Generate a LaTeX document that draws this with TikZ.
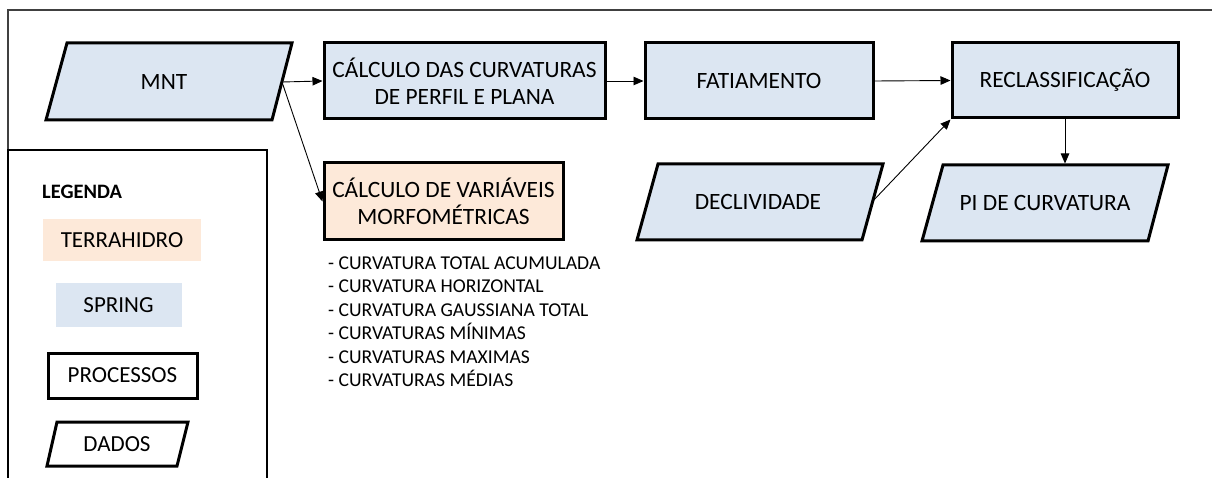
\documentclass[tikz,border=0pt]{standalone}
\usepackage{fontspec}
\setmainfont{Carlito}
\usetikzlibrary{arrows.meta}
\definecolor{sblue}{HTML}{DCE6F2}
\definecolor{tpeach}{HTML}{FDE9D9}
\definecolor{framegray}{HTML}{404040}
\begin{document}
\begin{tikzpicture}[x=1pt,y=-1pt,
  procbox/.style={draw=black, line width=3pt, inner sep=0pt, align=center, font=\fontsize{23.4}{27}\selectfont},
  datashape/.style={draw=black, line width=3pt, fill=sblue},
  boxtext/.style={inner sep=0pt, align=center, font=\fontsize{23.4}{27}\selectfont},
  legtext/.style={inner sep=0pt, align=center, font=\fontsize{23}{27}\selectfont},
  listtext/.style={inner sep=0pt, align=left, font=\fontsize{19.6}{23.4}\selectfont},
  conn/.style={-{Triangle[length=10pt,width=8.5pt]}, line width=0.9pt},
  ]
\useasboundingbox (0,0) rectangle (1212,478);
% outer frame
\draw[framegray, line width=1.3pt] (8,478) -- (8,10) -- (1212,10);
% legend frame
\draw[black, line width=1.8pt] (8,478) -- (8,150) -- (267,150) -- (267,478);

% MNT
\filldraw[datashape] (46,120) -- (67,43) -- (292,43) -- (272,120) -- cycle;
\node[boxtext] (mnt) at (164,81.5) {MNT};
\coordinate (mntR) at (282,82);

% processes
\node[procbox, fill=sblue, minimum width=281pt, minimum height=76pt] (calc1) at (464.5,81) {CÁLCULO DAS CURVATURAS\\DE PERFIL E PLANA};
\node[procbox, fill=tpeach, minimum width=239pt, minimum height=77pt] (var) at (443.5,201.5) {CÁLCULO DE VARIÁVEIS\\MORFOMÉTRICAS};
\node[procbox, fill=sblue, minimum width=228pt, minimum height=76pt] (fat) at (759,81) {FATIAMENTO};
\node[procbox, fill=sblue, minimum width=226pt, minimum height=75pt] (recl) at (1065,80.5) {RECLASSIFICAÇÃO};

% DECLIVIDADE
\filldraw[datashape] (637,240) -- (658,164) -- (883,164) -- (862,240) -- cycle;
\node[boxtext] (decl) at (758,202) {DECLIVIDADE};
\coordinate (declR) at (872,202);

% PI DE CURVATURA
\filldraw[datashape] (922,241) -- (943,165) -- (1168,165) -- (1148,241) -- cycle;
\node[boxtext] (pi) at (1045,203) {PI DE CURVATURA};
\coordinate (piT) at (1065,163.5);

% list
\node[listtext, anchor=north west] (lista) at (328,256.5) {- CURVATURA TOTAL ACUMULADA\\- CURVATURA HORIZONTAL\\- CURVATURA GAUSSIANA TOTAL\\- CURVATURAS MÍNIMAS\\- CURVATURAS MAXIMAS\\- CURVATURAS MÉDIAS};

% connectors
\draw[conn] (mntR) -- (calc1.west);
\draw[conn] (mntR) -- (var.west);
\draw[conn] (calc1.east) -- (fat.west);
\draw[conn] (fat.east) -- (recl.west);
\draw[conn] (declR) -- (recl.south west);
\draw[conn] (recl.south) -- (piT);

% legend
\node[inner sep=0pt, anchor=west, font=\bfseries\fontsize{20.5}{23}\selectfont] (lleg) at (42,192) {LEGENDA};
\node[legtext, fill=tpeach, minimum width=158pt, minimum height=42pt] (lterra) at (122,240) {TERRAHIDRO};
\node[legtext, fill=sblue, minimum width=126pt, minimum height=44pt] (lspring) at (118.5,305) {SPRING};
\node[legtext, draw=black, line width=3pt, minimum width=149pt, minimum height=45pt] (lproc) at (122.5,375.5) {PROCESSOS};
\draw[black, line width=3pt] (47,466) -- (57,422) -- (188,422) -- (177,466) -- cycle;
\node[legtext] (ldados) at (117,444) {DADOS};
\end{tikzpicture}
\end{document}
